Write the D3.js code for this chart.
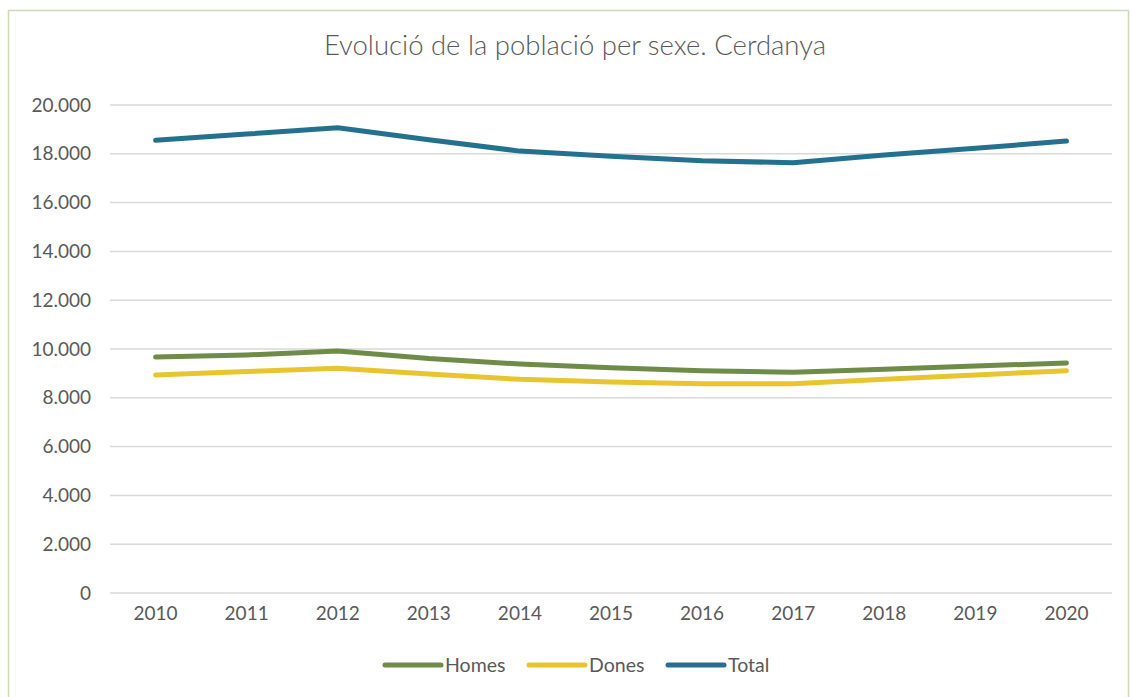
<!DOCTYPE html>
<html>
<head>
<meta charset="utf-8">
<script src="https://cdn.jsdelivr.net/npm/d3@7"></script>
<style>
  body { margin: 0; background: #fff; }
  text { font-family: Lato, "Open Sans", sans-serif; fill: #595959; }
</style>
</head>
<body>
<div id="chart-area"></div>
<script>
let years = ['2010', '2011', '2012', '2013', '2014', '2015', '2016', '2017', '2018', '2019', '2020'];
let homes = [9672, 9754, 9918, 9610, 9385, 9235, 9112, 9044, 9167, 9303, 9426];
let dones = [8934, 9077, 9208, 8975, 8757, 8648, 8578, 8578, 8757, 8934, 9112];
let total = [18553, 18810, 19070, 18580, 18110, 17900, 17720, 17630, 17950, 18224, 18525];
let yTicks = [0, 2000, 4000, 6000, 8000, 10000, 12000, 14000, 16000, 18000, 20000];

let seriesNames = ['Homes', 'Dones', 'Total'];
let seriesColors = ['#6e8b47', '#e8c52f', '#23718f'];

let series = [homes, dones, total].map((vals, i) => ({
  name: seriesNames[i],
  color: seriesColors[i],
  values: vals.map((v, j) => ({ year: years[j], value: v }))
}));

let svg = d3.select('#chart-area').append('svg')
  .attr('width', 1130)
  .attr('height', 697);

// outer frame
svg.append('rect')
  .attr('x', 8.5).attr('y', 10.5)
  .attr('width', 1120).attr('height', 700)
  .attr('fill', 'none')
  .attr('stroke', '#cfd9b4')
  .attr('stroke-width', 1.5);

svg.append('text')
  .attr('x', 575).attr('y', 55)
  .attr('text-anchor', 'middle')
  .style('font-size', '27.5px')
  .style('font-weight', 300)
  .text('Evolució de la població per sexe. Cerdanya');

let margin = { left: 110, right: 18, top: 105, bottom: 104 };
let width = 1130 - margin.left - margin.right;
let height = 697 - margin.top - margin.bottom;

let g = svg.append('g')
  .attr('transform', `translate(${margin.left}, ${margin.top})`);

let x = d3.scaleBand()
  .domain(years)
  .range([0, width]);

let y = d3.scaleLinear()
  .domain([0, 20000])
  .range([height, 0]);

let fmt = d => d3.format(',')(d).replace(/,/g, '.');

// grid
g.append('g')
  .selectAll('line')
  .data(yTicks)
  .enter()
  .append('line')
  .attr('x1', 0).attr('x2', width)
  .attr('y1', d => y(d)).attr('y2', d => y(d))
  .attr('stroke', '#d9d9d9')
  .attr('stroke-width', 1.5);

let leftAxis = d3.axisLeft(y).tickValues(yTicks).tickFormat(fmt).tickSize(0).tickPadding(19);
g.append('g')
  .attr('class', 'left-axis')
  .call(leftAxis)
  .call(s => s.select('.domain').remove())
  .selectAll('text')
    .style('font-size', '19px')
    .style('fill', '#595959');

let bottomAxis = d3.axisBottom(x).tickSize(0).tickPadding(14);
g.append('g')
  .attr('class', 'bottom-axis')
  .attr('transform', `translate(0, ${height})`)
  .call(bottomAxis)
  .call(s => s.select('.domain').remove())
  .selectAll('text')
    .style('font-size', '19px')
    .style('fill', '#595959');

let line = d3.line()
  .x(d => x(d.year) + x.bandwidth() / 2)
  .y(d => y(d.value));

g.selectAll('.series')
  .data(series)
  .enter()
  .append('path')
  .attr('class', 'series')
  .attr('d', d => line(d.values))
  .attr('fill', 'none')
  .attr('stroke', d => d.color)
  .attr('stroke-width', 5)
  .attr('stroke-linecap', 'round')
  .attr('stroke-linejoin', 'round');

// legend
let legendX = [385, 529, 668];
let legend = svg.selectAll('.legend')
  .data(series)
  .enter()
  .append('g')
  .attr('class', 'legend')
  .attr('transform', (d, i) => `translate(${legendX[i]}, 665)`);

legend.append('line')
  .attr('x1', 0).attr('x2', 56)
  .attr('y1', 0).attr('y2', 0)
  .attr('stroke', d => d.color)
  .attr('stroke-width', 5)
  .attr('stroke-linecap', 'round');

legend.append('text')
  .attr('x', 60).attr('y', 7)
  .style('font-size', '19.5px')
  .text(d => d.name);
</script>
</body>
</html>
